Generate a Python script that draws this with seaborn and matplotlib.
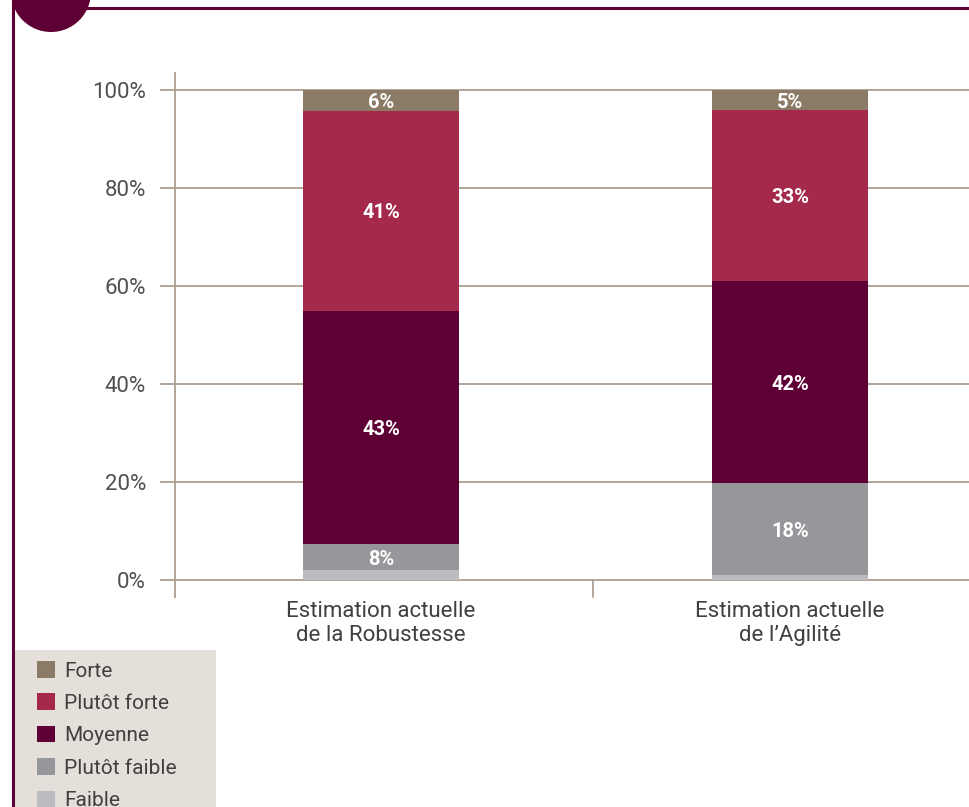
import matplotlib
matplotlib.use("Agg")
import matplotlib.pyplot as plt
import matplotlib.patches as mpatches
from matplotlib.transforms import IdentityTransform
import numpy as np
import pandas as pd
import seaborn as sns

# ---- data ----
categories = ["Estimation actuelle\nde la Robustesse", "Estimation actuelle\nde l\u2019Agilit\u00e9"]
levels = ["Faible", "Plut\u00f4t faible", "Moyenne", "Plut\u00f4t forte", "Forte"]
faible = [2.0, 1.0]
plutot_faible = [5.3, 18.8]
moyenne = [47.7, 41.2]
plutot_forte = [40.7, 34.9]
forte = [4.3, 4.1]
label_faible = ["", ""]
label_plutot_faible = ["8%", "18%"]
label_moyenne = ["43%", "42%"]
label_plutot_forte = ["41%", "33%"]
label_forte = ["6%", "5%"]
yticks = [0, 20, 40, 60, 80, 100]
ytick_labels = ["0%", "20%", "40%", "60%", "80%", "100%"]

colors = ["#bcbcc0", "#96979b", "#5e0035", "#a4294a", "#8b7a66"]
grid_col = "#ab9d90"
maroon = "#5e0035"

series = [faible, plutot_faible, moyenne, plutot_forte, forte]
seg_labels = [label_faible, label_plutot_faible, label_moyenne, label_plutot_forte, label_forte]

sns.set_theme(style="white")
plt.rcParams["font.family"] = ["Roboto", "DejaVu Sans"]

W, H = 969, 807
fig = plt.figure(figsize=(W / 100, H / 100), dpi=100)
ax = fig.add_axes([175 / W, (H - 597) / H, (W - 175) / W, (597 - 73) / H])

vals = np.array(series)
cum = np.cumsum(vals, axis=0)
# draw cumulative bars from the top down so they stack visually
for i in range(len(levels) - 1, -1, -1):
    df = pd.DataFrame({"cat": categories, "v": cum[i]})
    sns.barplot(data=df, x="cat", y="v", color=colors[i], width=0.38,
                saturation=1, ax=ax, zorder=3, linewidth=0)

for i in range(len(levels)):
    for j in range(len(categories)):
        txt = seg_labels[i][j]
        if txt:
            mid = cum[i][j] - vals[i][j] / 2
            ax.text(j, mid, txt, ha="center", va="center_baseline", color="white",
                    fontsize=14.5, fontweight="bold", zorder=5)

ax.set_xlim(-0.504, 1.438)
ax.set_ylim(-3.47, 103.47)
ax.set_yticks(yticks)
ax.set_yticklabels(ytick_labels)
ax.set_xlabel("")
ax.set_ylabel("")
for y in yticks:
    ax.axhline(y, color=grid_col, lw=1.3, zorder=1)
ax.tick_params(axis="y", length=15 * 0.72, width=1.3, color=grid_col, pad=10,
               labelsize=16, labelcolor="#505050", direction="out", left=True)
ax.tick_params(axis="x", length=0, pad=3, labelsize=16, labelcolor="#404040")
for lab in ax.get_xticklabels():
    lab.set_linespacing(1.18)
for s in ["top", "right", "bottom"]:
    ax.spines[s].set_visible(False)
ax.spines["left"].set_color(grid_col)
ax.spines["left"].set_linewidth(1.3)
# separator tick between categories
ax.plot([0.518, 0.518], [-3.47, 0], color=grid_col, lw=1.3, clip_on=False, zorder=2)

# ---- frame decorations ----
fig.add_artist(mpatches.Rectangle((13, 0), 203, H - 650, transform=IdentityTransform(),
                                  facecolor="#e4dfd9", edgecolor="none", zorder=0))
fig.add_artist(plt.Line2D([12.5, 12.5], [0, H], transform=IdentityTransform(),
                          color=maroon, lw=2.2))
fig.add_artist(plt.Line2D([40, W], [H - 7.5, H - 7.5], transform=IdentityTransform(),
                          color=maroon, lw=2.2))
fig.add_artist(mpatches.Circle((51, H + 8), 40, transform=IdentityTransform(),
                               facecolor=maroon, edgecolor="none"))

# ---- legend ----
leg_handles = [mpatches.Patch(facecolor=colors[i], edgecolor="none") for i in range(len(levels) - 1, -1, -1)]
leg_labels = [levels[i] for i in range(len(levels) - 1, -1, -1)]
leg = fig.legend(leg_handles, leg_labels, loc="upper left",
                 bbox_to_anchor=(37 / W, (H - 661) / H), frameon=False,
                 fontsize=15, handlelength=0.85, handleheight=0.85,
                 handletextpad=0.45, labelspacing=0.62, borderpad=0, borderaxespad=0)
for t in leg.get_texts():
    t.set_color("#404040")

fig.savefig("out.png", dpi=100)
